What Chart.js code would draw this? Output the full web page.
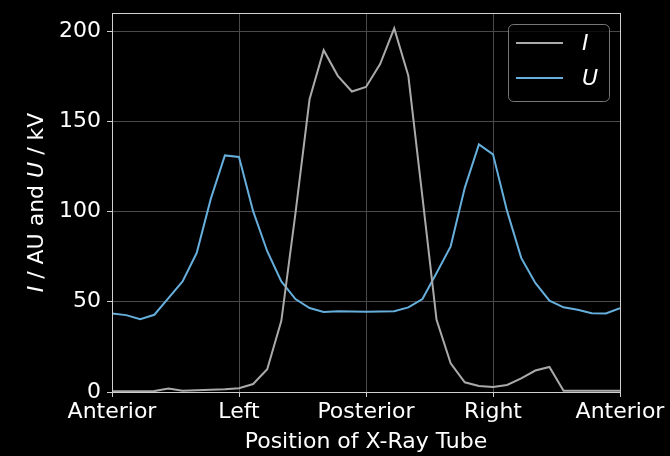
<!DOCTYPE html>
<html>
<head>
<meta charset="utf-8">
<script src="https://cdn.jsdelivr.net/npm/chart.js@4"></script>
<style>
  html, body { margin: 0; padding: 0; background: #000; }
  #wrap { width: 670px; height: 456px; }
</style>
</head>
<body>
<div id="wrap"><canvas id="grafico" width="670" height="456"></canvas></div>
<script>
// posiciones del tubo (37 medidas, etiqueta cada 9)
const posLabels = ['Anterior', 'Left', 'Posterior', 'Right', 'Anterior'];
const posIndex = [0,1,2,3,4,5,6,7,8,9,10,11,12,13,14,15,16,17,18,19,20,21,22,23,24,25,26,27,28,29,30,31,32,33,34,35,36];

// corriente I (AU)
const valoresI = [0.4,0.4,0.4,0.5,1.9,0.7,1.0,1.3,1.5,2.1,4.4,12.6,39.4,99,162.2,189.4,175.2,166.5,169,181.7,201.5,175.2,108,40,15.9,5.4,3.3,2.8,3.9,7.6,11.9,13.9,0.7,0.7,0.7,0.7,0.7];
// tension U (kV)
const valoresU = [43.5,42.6,40.4,42.8,52.0,61.3,77.0,107,131.1,130.2,100.2,78.0,61.3,51.5,46.5,44.3,44.8,44.6,44.4,44.6,44.8,46.9,51.5,65.9,80.7,113.1,137.2,131.7,100.2,74.3,60.4,50.6,46.9,45.6,43.7,43.5,46.5];

const yTicks = [0, 50, 100, 150, 200];

const FONT = 'DejaVu Sans';
const SIZE = 22;
const colorI = '#aaaaaa';
const colorU = '#66aedb';

const fondo = {
    id: 'fondo',
    beforeDraw(chart) {
        const c = chart.ctx;
        c.save();
        c.fillStyle = '#000';
        c.fillRect(0, 0, chart.width, chart.height);
        c.restore();
    },
    afterDraw(chart) {
        const c = chart.ctx;
        const a = chart.chartArea;
        c.save();
        // marco completo
        c.strokeStyle = '#d0d0d0';
        c.lineWidth = 1;
        c.strokeRect(a.left + 0.5, a.top + 0.5, a.right - a.left, a.bottom - a.top);

        // titulo eje y con cursiva
        const partes = [['I', true], [' / AU and ', false], ['U', true], [' / kV', false]];
        let total = 0;
        partes.forEach(p => {
            c.font = (p[1] ? 'italic ' : '') + SIZE + 'px "' + FONT + '"';
            total += c.measureText(p[0]).width;
        });
        c.translate(37, (a.top + a.bottom) / 2);
        c.rotate(-Math.PI / 2);
        c.fillStyle = '#ffffff';
        c.textBaseline = 'middle';
        let x = -total / 2;
        partes.forEach(p => {
            c.font = (p[1] ? 'italic ' : '') + SIZE + 'px "' + FONT + '"';
            c.fillText(p[0], x, 0);
            x += c.measureText(p[0]).width;
        });
        c.restore();

        // leyenda
        c.save();
        const bx = 508.5, by = 24.5, bw = 101, bh = 77, r = 5;
        c.beginPath();
        c.roundRect(bx, by, bw, bh, r);
        c.fillStyle = 'rgba(0,0,0,0.8)';
        c.fill();
        c.strokeStyle = '#777777';
        c.lineWidth = 1;
        c.stroke();
        chart.data.datasets.forEach((ds, i) => {
            const ly = 43 + i * 35;
            c.beginPath();
            c.moveTo(516, ly);
            c.lineTo(563, ly);
            c.strokeStyle = ds.borderColor;
            c.lineWidth = 2;
            c.stroke();
            c.font = 'italic ' + SIZE + 'px "' + FONT + '"';
            c.fillStyle = '#ffffff';
            c.textBaseline = 'middle';
            c.fillText(ds.label, 582, ly + 1);
        });
        c.restore();
    }
};

const ctx = document.getElementById('grafico').getContext('2d');
const grafico = new Chart(ctx, {
    type: 'line',
    data: {
        datasets: [{
            label: 'I',
            data: posIndex.map((p, i) => ({ x: p, y: valoresI[i] })),
            borderColor: colorI,
            borderWidth: 2,
            pointRadius: 0,
            fill: false,
            tension: 0
        }, {
            label: 'U',
            data: posIndex.map((p, i) => ({ x: p, y: valoresU[i] })),
            borderColor: colorU,
            borderWidth: 2,
            pointRadius: 0,
            fill: false,
            tension: 0
        }]
    },
    options: {
        responsive: false,
        animation: false,
        layout: { padding: { top: 13, right: 50, left: 0, bottom: 0 } },
        plugins: {
            legend: { display: false },
            tooltip: { enabled: false }
        },
        scales: {
            x: {
                type: 'linear',
                min: 0,
                max: 36,
                afterBuildTicks: s => { s.ticks = [0, 9, 18, 27, 36].map(v => ({ value: v })); },
                afterFit: s => { s.height = 64; s.paddingLeft = 0; s.paddingRight = 0; },
                ticks: {
                    color: '#ffffff',
                    font: { family: FONT, size: SIZE, lineHeight: 1 },
                    padding: 4,
                    maxRotation: 0,
                    callback: v => posLabels[v / 9]
                },
                grid: { color: '#4a4a4a', tickColor: '#d0d0d0', tickLength: 5, lineWidth: 1 },
                border: { display: false },
                title: {
                    display: true,
                    text: 'Position of X-Ray Tube',
                    color: '#ffffff',
                    font: { family: FONT, size: SIZE, lineHeight: 1.2 },
                    padding: { top: 0, bottom: 1 }
                }
            },
            y: {
                min: 0,
                max: 210,
                afterBuildTicks: s => { s.ticks = yTicks.map(v => ({ value: v })); },
                afterFit: s => { s.width = 112; s.paddingTop = 0; s.paddingBottom = 0; },
                ticks: {
                    color: '#ffffff',
                    font: { family: FONT, size: SIZE },
                    padding: 6
                },
                grid: { color: '#4a4a4a', tickColor: '#d0d0d0', tickLength: 5, lineWidth: 1 },
                border: { display: false }
            }
        }
    },
    plugins: [fondo]
});
</script>
</body>
</html>
